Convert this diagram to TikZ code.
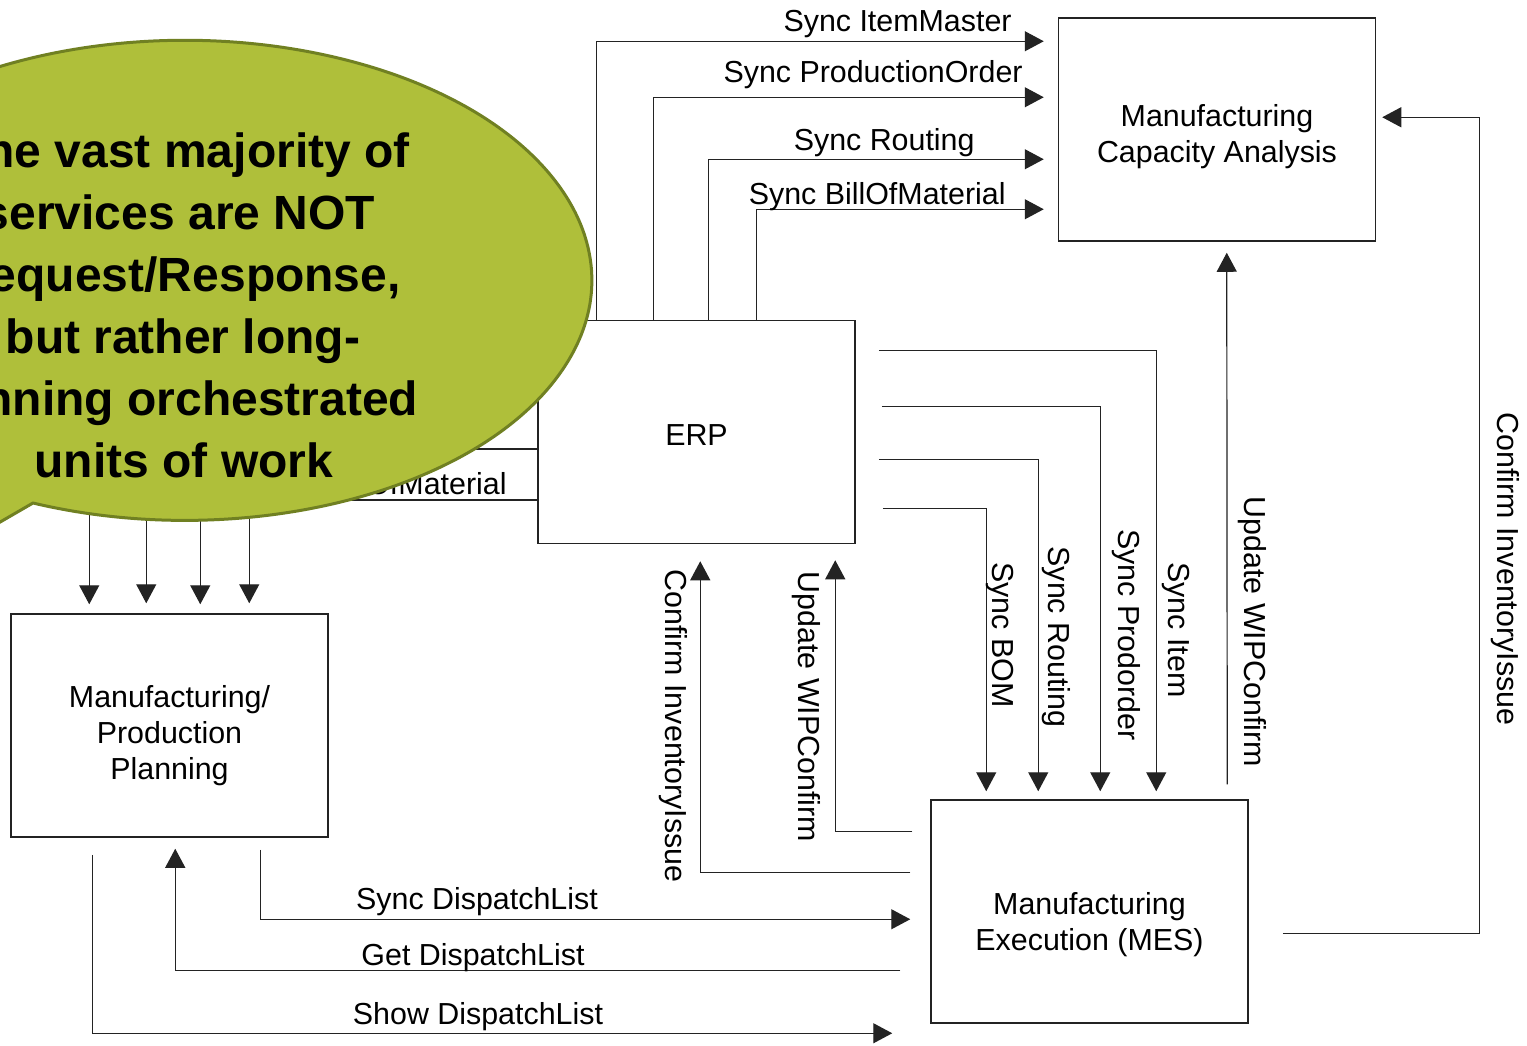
\documentclass[tikz,border=0pt]{standalone}
\usepackage{fontspec}
\setmainfont{Liberation Sans}
\usetikzlibrary{arrows.meta,calc}
\definecolor{bubblefill}{RGB}{175,191,58}
\definecolor{bubbleedge}{RGB}{112,128,34}
\definecolor{lineclr}{RGB}{35,35,35}
\begin{document}
\begin{tikzpicture}[x=0.5pt,y=-0.5pt,
  box/.style={draw=lineclr, line width=0.75pt, minimum width=158.5pt, minimum height=111.5pt, inner sep=0pt},
  boxtxt/.style={inner sep=0pt, align=center, font=\fontsize{15.2}{18}\selectfont},
  conn/.style={draw=lineclr, line width=0.6pt, -{Triangle[length=9.5pt,width=10pt]}},
  lbl/.style={font=\fontsize{15.2}{17.5}\selectfont, inner sep=0pt},
  vlbl/.style={lbl, rotate=-90},
  btext/.style={font=\fontsize{24}{31}\bfseries\selectfont, inner sep=0pt, anchor=base}
]
\useasboundingbox (0,0) rectangle (1527,1045);
\clip (0,0) rectangle (1527,1045);
\fill[white] (0,0) rectangle (1527,1045);

% boxes
\node[box] (cap) at (1217,129.5) {};
\node[boxtxt] (capt) at ($(cap.center)+(0,7)$) {Manufacturing\\Capacity Analysis};
\node[box] (erp) at (696.5,432) {};
\node[boxtxt] (erpt) at ($(erp.center)+(0,3)$) {ERP};
\node[box] (mpp) at (169.5,725.5) {};
\node[boxtxt] (mppt) at ($(mpp.center)+(0,10)$) {Manufacturing/\\Production\\Planning};
\node[box] (mes) at (1089.5,911.5) {};
\node[boxtxt] (mest) at ($(mes.center)+(0,13)$) {Manufacturing\\Execution (MES)};

% ERP -> Capacity
\draw[conn] ($(erp.north west)+(59,0)$) |- ($(cap.north west)+(-14,24)$);
\draw[conn] ($(erp.north west)+(116,0)$) |- ($(cap.north west)+(-14,80)$);
\draw[conn] ($(erp.north west)+(171,0)$) |- ($(cap.north west)+(-14,142)$);
\draw[conn] ($(erp.north west)+(219,0)$) |- ($(cap.north west)+(-14,192)$);
\node[lbl, anchor=base east] (t1) at (1012,31) {Sync ItemMaster};
\node[lbl, anchor=base east] (t2) at (1023,82) {Sync ProductionOrder};
\node[lbl, anchor=base east] (t3) at (975,150) {Sync Routing};
\node[lbl, anchor=base east] (t4) at (1006,204) {Sync BillOfMaterial};

% ERP -> MES
\draw[conn] ($(erp.north east)+(23,31)$) -| ($(mes.north west)+(226,-8)$);
\draw[conn] ($(erp.north east)+(26,87)$) -| ($(mes.north west)+(170,-8)$);
\draw[conn] ($(erp.north east)+(23,140)$) -| ($(mes.north west)+(108,-8)$);
\draw[conn] ($(erp.north east)+(27,189)$) -| ($(mes.north west)+(56,-8)$);
\node[vlbl] (s1) at (1176,630) {Sync Item};
\node[vlbl] (s2) at (1126,635) {Sync Prodorder};
\node[vlbl] (s3) at (1056,637) {Sync Routing};
\node[vlbl] (s4) at (1000,635) {Sync BOM};

% MES -> Capacity
\draw[conn] ($(mes.north west)+(297,-15)$) -- ($(cap.south west)+(169,11)$);
\node[vlbl] (u1) at (1252,632) {Update WIPConfirm};
\draw[conn] ($(mes.south east)+(34,-90)$) -- ++(197,0) |- ($(cap.north east)+(6,100)$);
\node[vlbl] (c1) at (1505,569) {Confirm InventoryIssue};

% MES -> ERP
\draw[conn] ($(mes.north west)+(-18,32)$) -| ($(erp.south west)+(298,16)$);
\node[vlbl] (u2) at (806,707) {Update WIPConfirm};
\draw[conn] ($(mes.north west)+(-20,73)$) -| ($(erp.south west)+(163,17)$);
\node[vlbl] (c2) at (673,726) {Confirm InventoryIssue};

% MPP <-> MES
\draw[conn] ($(mpp.south west)+(250,12)$) |- ($(mes.north west)+(-20,120)$);
\node[lbl, anchor=base] (d1) at (477,909) {Sync DispatchList};
\draw[conn] ($(mes.north west)+(-30,171)$) -| ($(mpp.south west)+(165,11)$);
\node[lbl, anchor=base] (d2) at (473,965) {Get DispatchList};
\draw[conn] ($(mpp.south west)+(82,17)$) |- ($(mes.north west)+(-38,234)$);
\node[lbl, anchor=base] (d3) at (478,1024) {Show DispatchList};

% ERP -> MPP (mostly under the callout)
\draw[conn] ($(erp.west)+(0,68)$) -| ($(mpp.north west)+(239,-10)$);
\draw[conn] ($(erp.west)+(0,17)$) -| ($(mpp.north west)+(190,-9)$);
\draw[conn] ($(erp.west)+(0,-37)$) -| ($(mpp.north west)+(136,-10)$);
\draw[conn] ($(erp.west)+(0,-92)$) -| ($(mpp.north west)+(79,-9)$);
\node[lbl, anchor=base east] (b1) at (507,494) {Sync BillOfMaterial};

% callout
\filldraw[fill=bubblefill, draw=bubbleedge, line width=1.5pt, line join=round]
  (33,503) arc[start angle=111.9, end angle=-225.5, x radius=407, y radius=240]
  -- (-100,580) -- cycle;
\node[btext] (q1) at (183,167) {The vast majority of};
\node[btext] (q2) at (179,229) {services are NOT};
\node[btext] (q3) at (178,291) {Request/Response,};
\node[btext] (q4) at (183,353) {but rather long-};
\node[btext] (q5) at (177,415) {running orchestrated};
\node[btext] (q6) at (184,477) {units of work};
\end{tikzpicture}
\end{document}
